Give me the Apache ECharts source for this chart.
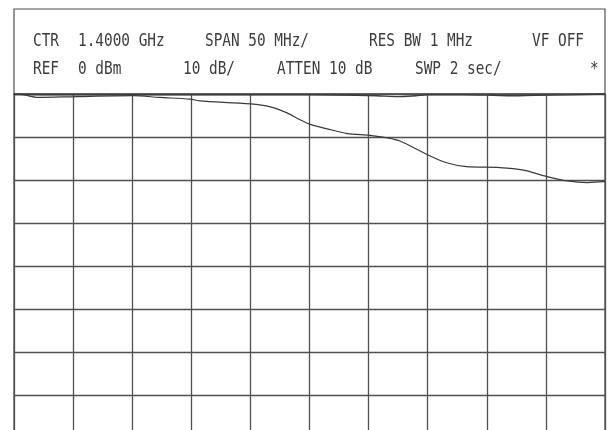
<!DOCTYPE html>
<html>
<head>
<meta charset="utf-8">
<script src="https://cdn.jsdelivr.net/npm/echarts@6/dist/echarts.min.js"></script>
<style>html,body{margin:0;padding:0;background:#fff;}#c{width:609px;height:430px;}</style>
</head>
<body>
<div id="c"></div>
<script>
// Frequency axis (MHz): CTR 1.4000 GHz, 50 MHz/div, 10 divisions
var freqMin = 1150, freqMax = 1650, freqStep = 50;
// Amplitude axis (dBm): REF 0 dBm, 10 dB/div, 8 divisions
var dbMin = -80, dbMax = 0, dbStep = 10;

// Reference (upper) trace
var refFreq = [1150, 1200, 1250, 1300, 1350, 1400, 1440, 1457, 1475, 1490, 1500, 1530, 1555, 1572, 1590, 1620, 1650];
var refDb   = [-0.1, -0.2, -0.2, -0.2, -0.2, -0.2, -0.3, -0.4, -0.6, -0.4, -0.2, -0.2, -0.3, -0.4, -0.3, -0.2, 0.0];

// Measured (descending) trace
var measFreq = [1150, 1155, 1170, 1203, 1251, 1273, 1299, 1307, 1350, 1367, 1381, 1392, 1400, 1415, 1432, 1451, 1466, 1477, 1499, 1516, 1533, 1561, 1581, 1601, 1618, 1635, 1648, 1650];
var measDb   = [-0.1, -0.1, -0.8, -0.6, -0.4, -0.8, -1.2, -1.6, -2.3, -3.0, -4.4, -6.0, -7.0, -8.1, -9.2, -9.6, -10.2, -11.0, -14.0, -16.0, -16.9, -17.1, -17.7, -19.2, -20.2, -20.6, -20.4, -20.4];

// Header annotation texts
var headerRow1 = ["CTR", "1.4000 GHz", "SPAN 50 MHz/", "RES BW 1 MHz", "VF OFF"];
var headerRow2 = ["REF", "0 dBm", "10 dB/", "ATTEN 10 dB", "SWP 2 sec/", "*"];
var row1X = [33, 78, 205, 369, 532];
var row2X = [33, 78, 183, 277, 415, 590];

function zip(a, b) { return a.map(function (v, i) { return [v, b[i]]; }); }

var lineColor = '#505050';
var textStyleBase = { fontFamily: 'DejaVu Sans Mono', fontSize: 18, fill: '#3c3c3c' };

var graphics = [{
  type: 'rect',
  shape: { x: 14, y: 9, width: 591, height: 85 },
  style: { fill: 'none', stroke: lineColor, lineWidth: 1.2 },
  silent: true
}];
headerRow1.forEach(function (t, i) {
  graphics.push({ type: 'text', x: row1X[i], y: 50, scaleX: 0.8,
    style: Object.assign({ text: t, verticalAlign: 'bottom' }, textStyleBase) });
});
headerRow2.forEach(function (t, i) {
  graphics.push({ type: 'text', x: row2X[i], y: 78, scaleX: 0.8,
    style: Object.assign({ text: t, verticalAlign: 'bottom' }, textStyleBase) });
});

var chart = echarts.init(document.getElementById('c'), null, { renderer: 'canvas' });
chart.setOption({
  backgroundColor: '#ffffff',
  animation: false,
  grid: { left: 14, width: 591, top: 94, height: 344, show: true, borderColor: lineColor, borderWidth: 1.3,
    containLabel: false, outerBoundsMode: 'none' },
  xAxis: {
    type: 'value', min: freqMin, max: freqMax, interval: freqStep,
    axisLine: { show: false }, axisTick: { show: false }, axisLabel: { show: false },
    splitLine: { show: true, lineStyle: { color: lineColor, width: 1.3 } }
  },
  yAxis: {
    type: 'value', min: dbMin, max: dbMax, interval: dbStep,
    axisLine: { show: false }, axisTick: { show: false }, axisLabel: { show: false },
    splitLine: { show: true, lineStyle: { color: lineColor, width: 1.3 } }
  },
  series: [
    { type: 'line', data: zip(refFreq, refDb), showSymbol: false, smooth: 0.3, clip: false,
      lineStyle: { color: '#3a3a3a', width: 1.4 } },
    { type: 'line', data: zip(measFreq, measDb), showSymbol: false, smooth: 0.3, clip: false,
      lineStyle: { color: '#3a3a3a', width: 1.2 } }
  ],
  graphic: graphics
});
</script>
</body>
</html>
